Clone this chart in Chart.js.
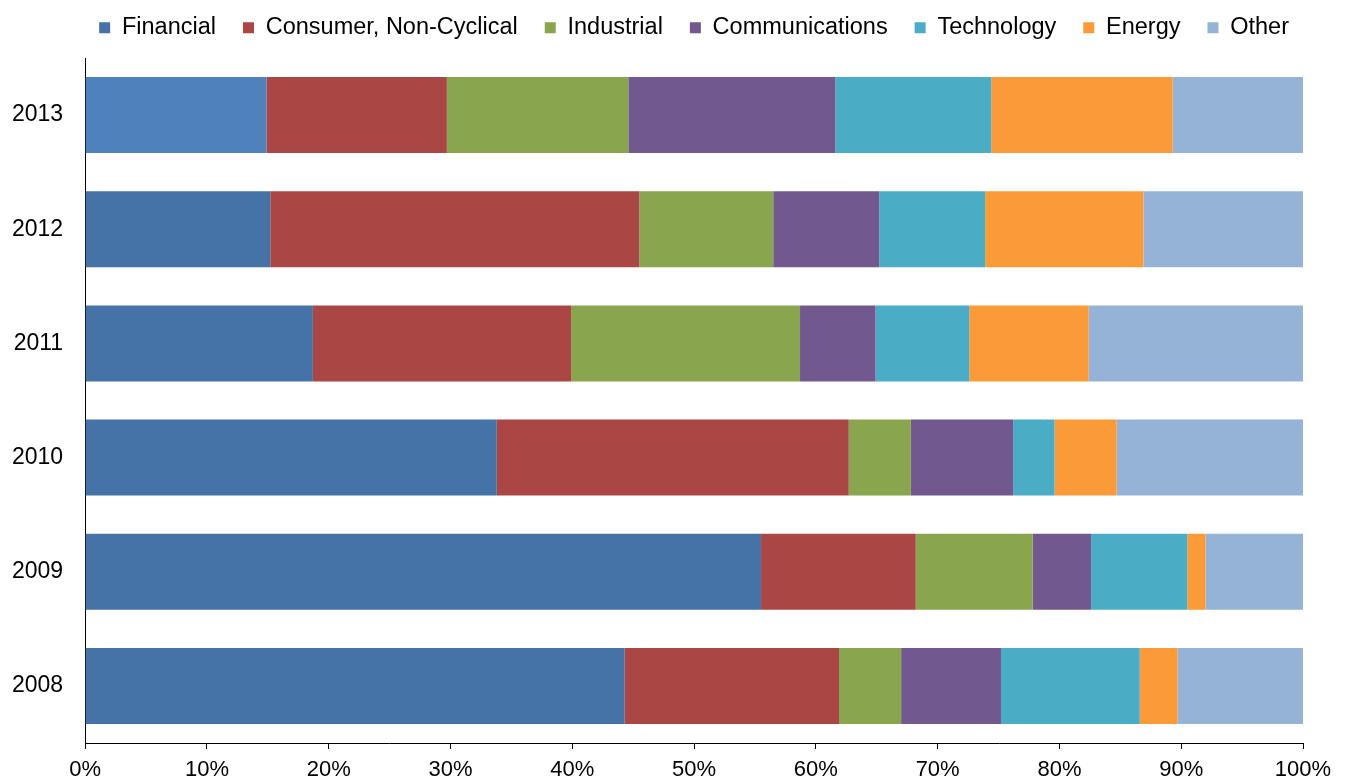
<!DOCTYPE html>
<html>
<head>
<meta charset="utf-8">
<title>Sector mix by year</title>
<script src="https://cdn.jsdelivr.net/npm/chart.js@4.4.1/dist/chart.umd.min.js"></script>
<style>
  html, body { margin: 0; padding: 0; background: #fff; }
  #wrap { width: 1346px; height: 781px; }
</style>
</head>
<body>
<div id="wrap"><canvas id="sectorChart"></canvas></div>
<script>
// Years, top to bottom
const years = ['2013', '2012', '2011', '2010', '2009', '2008'];

// Share of each sector (%), one value per year
const financial      = [14.9, 15.2, 18.7, 33.8, 55.5, 44.3];
const consumerNonCyc = [14.8, 30.3, 21.2, 28.9, 12.7, 17.6];
const industrial     = [14.9, 11.0, 18.8,  5.1,  9.6,  5.1];
const communications = [17.0,  8.7,  6.2,  8.4,  4.8,  8.2];
const technology     = [12.8,  8.7,  7.7,  3.4,  7.9, 11.4];
const energy         = [14.9, 13.0,  9.8,  5.1,  1.5,  3.1];
const other          = [10.7, 13.1, 17.6, 15.3,  8.0, 10.3];

const seriesNames = ['Financial', 'Consumer, Non-Cyclical', 'Industrial', 'Communications', 'Technology', 'Energy', 'Other'];
const seriesData = [financial, consumerNonCyc, industrial, communications, technology, energy, other];

// Tick labels on the value axis
const xTicks = [0, 10, 20, 30, 40, 50, 60, 70, 80, 90, 100];

// Colors
const SERIES_COLORS = ['#4572A7', '#AA4643', '#89A54E', '#71588F', '#4BACC6', '#FB9A38', '#95B3D7'];
const FIN_2013 = '#4F81BD'; // the 2013 financial bar is a lighter blue

const FONT = 'Liberation Sans, Arial, sans-serif';
Chart.defaults.font.family = FONT;
Chart.defaults.color = '#000';

const datasets = seriesNames.map((name, i) => ({
  label: name,
  data: seriesData[i],
  backgroundColor: i === 0
    ? years.map(y => (y === '2013' ? FIN_2013 : SERIES_COLORS[0]))
    : SERIES_COLORS[i],
  borderWidth: 0,
  barPercentage: 0.665,
  categoryPercentage: 1
}));

// Legend tweaks: fixed height, moved up and centered over the plot area
const legendLayout = {
  id: 'legendLayout',
  beforeInit(chart) {
    const legend = chart.legend;
    if (!legend) return;
    const origFit = legend.fit;
    legend.fit = function fit() {
      origFit.bind(legend)();
      this.height = 58;
    };
  },
  afterLayout(chart) {
    const legend = chart.legend;
    const area = chart.chartArea;
    // shift sideways so the row is centred on the plot area, keep full width
    const dx = (area.left + area.right) / 2 - (legend.left + legend.right) / 2;
    legend.left += dx;
    legend.right += dx;
    legend.top -= 11;
    legend.bottom -= 11;
  }
};

new Chart(document.getElementById('sectorChart'), {
  type: 'bar',
  data: {
    labels: years,
    datasets: datasets
  },
  plugins: [legendLayout],
  options: {
    indexAxis: 'y',
    responsive: true,
    maintainAspectRatio: false,
    animation: false,
    layout: {
      // tick padding is counted on both sides of the labels, hence the negatives
      padding: { left: -10, right: 43, top: 0, bottom: -10 }
    },
    scales: {
      x: {
        stacked: true,
        min: 0,
        max: 100,
        afterBuildTicks: axis => {
          axis.ticks = xTicks.map(v => ({ value: v }));
        },
        ticks: {
          color: '#000',
          padding: 10,
          font: { size: 22, lineHeight: 1 },
          callback: value => value + '%'
        },
        grid: {
          drawOnChartArea: false,
          drawTicks: true,
          tickLength: 6,
          color: '#000'
        },
        border: { display: true, color: '#000', width: 1 }
      },
      y: {
        stacked: true,
        ticks: {
          color: '#000',
          padding: 22,
          font: { size: 23 }
        },
        grid: {
          drawOnChartArea: false,
          drawTicks: false
        },
        border: { display: true, color: '#000', width: 1 }
      }
    },
    plugins: {
      legend: {
        display: true,
        position: 'top',
        labels: {
          color: '#000',
          boxWidth: 11,
          boxHeight: 11,
          padding: 27,
          font: { size: 23.5 },
          generateLabels: chart => {
            const items = Chart.defaults.plugins.legend.labels.generateLabels(chart);
            items.forEach(item => {
              item.fillStyle = SERIES_COLORS[item.datasetIndex];
              item.strokeStyle = SERIES_COLORS[item.datasetIndex];
              item.lineWidth = 0;
            });
            return items;
          }
        }
      },
      tooltip: {
        callbacks: {
          label: ctx => `${ctx.dataset.label}: ${ctx.parsed.x.toFixed(1)}%`
        }
      }
    }
  }
});
</script>
</body>
</html>
